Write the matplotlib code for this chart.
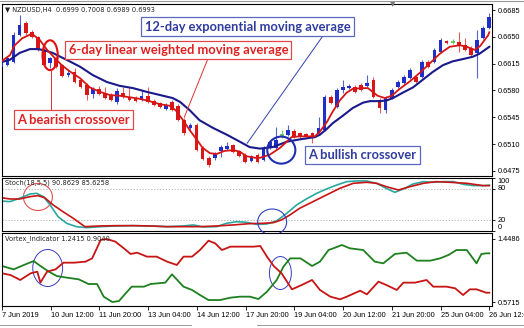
import numpy as np
import matplotlib.pyplot as plt
from matplotlib.patches import Ellipse

# NZDUSD H4 candles (bar index = position on the chart)
opens = [0.6611, 0.6613, 0.6617, 0.6652, 0.6668, 0.6656, 0.6650, 0.6633, 0.6616, 0.6622,
         0.6613, 0.6600, 0.6604, 0.6594, 0.6587, 0.6575, 0.6582, 0.6577, 0.6574, 0.6565,
         0.6577, 0.6571, 0.6570, 0.6567, 0.6573, 0.6566, 0.6564, 0.6556, 0.6565, 0.6560,
         0.6541, 0.6531, 0.6535, 0.6505, 0.6492, 0.6492, 0.6501, 0.6504, 0.6509, 0.6501,
         0.6496, 0.6488, 0.6496, 0.6489, 0.6505, 0.6505, 0.6522, 0.6522, 0.6527, 0.6524,
         0.6523, 0.6524, 0.6524, 0.6528, 0.6571, 0.6558, 0.6581, 0.6583, 0.6584, 0.6587,
         0.6586, 0.6594, 0.6567, 0.6554, 0.6570, 0.6584, 0.6590, 0.6596, 0.6598, 0.6598,
         0.6617, 0.6617, 0.6630, 0.6645, 0.6643, 0.6643, 0.6639, 0.6635, 0.6629, 0.6648, 0.6662]
highs = [0.6617, 0.6625, 0.6656, 0.6679, 0.6671, 0.6659, 0.6651, 0.6635, 0.6624, 0.6625,
         0.6615, 0.6607, 0.6609, 0.6596, 0.6590, 0.6584, 0.6586, 0.6584, 0.6577, 0.6583,
         0.6584, 0.6584, 0.6573, 0.6581, 0.6584, 0.6569, 0.6565, 0.6564, 0.6567, 0.6562,
         0.6544, 0.6537, 0.6537, 0.6507, 0.6494, 0.6500, 0.6509, 0.6513, 0.6510, 0.6502,
         0.6498, 0.6496, 0.6498, 0.6507, 0.6515, 0.6532, 0.6528, 0.6535, 0.6530, 0.6526,
         0.6524, 0.6526, 0.6545, 0.6574, 0.6574, 0.6583, 0.6594, 0.6588, 0.6587, 0.6590,
         0.6600, 0.6598, 0.6570, 0.6573, 0.6583, 0.6594, 0.6600, 0.6609, 0.6600, 0.6620,
         0.6620, 0.6635, 0.6648, 0.6646, 0.6647, 0.6656, 0.6648, 0.6638, 0.6659, 0.6664, 0.6681]
lows = [0.6609, 0.6612, 0.6616, 0.6651, 0.6652, 0.6648, 0.6631, 0.6612, 0.6609, 0.6609,
        0.6598, 0.6598, 0.6590, 0.6583, 0.6567, 0.6570, 0.6574, 0.6569, 0.6566, 0.6562,
        0.6570, 0.6566, 0.6565, 0.6566, 0.6564, 0.6560, 0.6557, 0.6554, 0.6553, 0.6540,
        0.6522, 0.6528, 0.6501, 0.6489, 0.6480, 0.6489, 0.6493, 0.6502, 0.6498, 0.6493,
        0.6485, 0.6487, 0.6485, 0.6488, 0.6504, 0.6504, 0.6518, 0.6520, 0.6518, 0.6518,
        0.6519, 0.6511, 0.6523, 0.6527, 0.6562, 0.6557, 0.6577, 0.6582, 0.6577, 0.6579,
        0.6584, 0.6570, 0.6551, 0.6551, 0.6569, 0.6583, 0.6588, 0.6595, 0.6590, 0.6596,
        0.6609, 0.6616, 0.6629, 0.6641, 0.6641, 0.6630, 0.6631, 0.6625, 0.6596, 0.6647, 0.6660]
closes = [0.6616, 0.6622, 0.6652, 0.6665, 0.6655, 0.6650, 0.6633, 0.6613, 0.6622, 0.6611,
          0.6599, 0.6603, 0.6591, 0.6584, 0.6574, 0.6582, 0.6575, 0.6570, 0.6567, 0.6579,
          0.6571, 0.6567, 0.6566, 0.6573, 0.6565, 0.6561, 0.6558, 0.6561, 0.6554, 0.6541,
          0.6524, 0.6535, 0.6502, 0.6490, 0.6483, 0.6497, 0.6506, 0.6507, 0.6500, 0.6494,
          0.6487, 0.6494, 0.6487, 0.6505, 0.6513, 0.6515, 0.6522, 0.6528, 0.6519, 0.6519,
          0.6520, 0.6518, 0.6531, 0.6571, 0.6564, 0.6581, 0.6584, 0.6586, 0.6578, 0.6581,
          0.6590, 0.6571, 0.6557, 0.6570, 0.6581, 0.6591, 0.6598, 0.6607, 0.6591, 0.6617,
          0.6611, 0.6633, 0.6646, 0.6642, 0.6643, 0.6639, 0.6633, 0.6626, 0.6646, 0.6662, 0.6676]

# 6-period LWMA (red) and 12-period EMA (navy)
wma_x = [0, 1.4, 2.2, 3.4, 5.0, 6.3, 7.5, 8.8, 9.9, 11.2, 12.9, 14.5, 16.2, 17.8, 19.4,
         21.1, 22.7, 24.3, 26.0, 27.6, 28.6, 29.8, 30.9, 32.1, 33.0, 34.2, 35.3, 36.6, 38.0,
         39.1, 40.2, 41.6, 42.4, 44.0, 45.7, 47.6, 48.9, 51.4, 52.2, 53.4, 54.3, 55.5, 56.6,
         57.6, 59.1, 60.1, 60.9, 61.7, 62.9, 64.0, 65.3, 67.0, 68.6, 70.2, 71.9, 73.5, 75.2,
         76.3, 77.6, 78.5, 79.8, 80]
wma_y = [0.6618, 0.6626, 0.6639, 0.6648, 0.6654, 0.6646, 0.6633, 0.6622, 0.6613, 0.6605,
         0.6596, 0.6584, 0.6578, 0.6574, 0.6573, 0.6571, 0.6569, 0.6566, 0.6562, 0.6560,
         0.6554, 0.6541, 0.6528, 0.6515, 0.6505, 0.6498, 0.6497, 0.6501, 0.6502, 0.6500,
         0.6494, 0.6492, 0.6492, 0.6496, 0.6505, 0.6519, 0.6520, 0.6520, 0.6526, 0.6539,
         0.6552, 0.6567, 0.6577, 0.6582, 0.6583, 0.6583, 0.6578, 0.6573, 0.6570, 0.6573,
         0.6582, 0.6592, 0.6603, 0.6615, 0.6628, 0.6637, 0.6639, 0.6637, 0.6633, 0.6638,
         0.6652, 0.6656]
ema_x = [0, 1.4, 3.0, 4.7, 5.8, 6.8, 8.4, 10.7, 12.9, 15.0, 17.3, 19.4, 21.6, 23.9, 26.0,
         28.1, 29.3, 30.9, 32.5, 34.7, 37.0, 39.1, 40.7, 42.4, 44.5, 46.8, 48.9, 51.4, 52.2,
         53.4, 54.3, 56.0, 57.6, 59.3, 60.4, 62.1, 63.2, 64.2, 65.8, 67.5, 69.1, 70.7, 72.4,
         74.0, 75.7, 77.3, 78.4, 80]
ema_y = [0.6617, 0.6620, 0.6629, 0.6634, 0.6634, 0.6633, 0.6629, 0.6620, 0.6611, 0.6600,
         0.6591, 0.6586, 0.6583, 0.6578, 0.6574, 0.6570, 0.6565, 0.6554, 0.6541, 0.6531,
         0.6522, 0.6513, 0.6506, 0.6504, 0.6506, 0.6513, 0.6516, 0.6519, 0.6522, 0.6530,
         0.6537, 0.6547, 0.6557, 0.6564, 0.6566, 0.6566, 0.6567, 0.6570, 0.6577, 0.6584,
         0.6594, 0.6604, 0.6613, 0.6618, 0.6621, 0.6624, 0.6628, 0.6637]

# Stochastic(18,5,5): %K (teal) and signal (red)
k_x = [0, 1.4, 3.0, 4.7, 5.8, 6.9, 8.0, 9.3, 10.7, 12.3, 14.0, 16.2, 18.9, 21.6, 24.4, 27.1,
       29.8, 31.5, 33.1, 35.3, 36.9, 38.6, 40.2, 41.8, 43.5, 45.1, 46.8, 48.4, 50.0, 51.7,
       53.3, 55.0, 56.6, 58.2, 59.9, 61.5, 63.1, 64.5, 65.9, 67.5, 69.2, 70.8, 72.4, 74.1,
       75.7, 77.4, 79.0, 80]
k_y = [56.6, 55.4, 61.7, 69.8, 71.1, 64.8, 49.1, 27.1, 14.5, 8.2, 6.3, 8.2, 9.5, 10.1, 9.5,
       8.2, 9.5, 11.4, 7.6, 8.2, 14.5, 17.6, 16.4, 12.6, 13.2, 18.9, 33.4, 49.1, 60.4, 71.1,
       79.3, 86.8, 93.1, 94.4, 94.4, 90.0, 80.5, 73.0, 79.3, 88.7, 93.1, 91.9, 93.1, 93.1,
       88.1, 85.6, 85.6, 86.5]
d_x = [0, 1.4, 3.0, 4.7, 6.0, 7.1, 8.5, 10.1, 11.8, 13.7, 16.2, 18.9, 21.6, 24.4, 27.1, 29.8,
       32.5, 35.3, 38.0, 40.7, 42.9, 44.6, 45.9, 47.3, 48.9, 51.1, 53.3, 55.5, 57.7, 59.9,
       61.5, 63.1, 65.1, 67.0, 69.2, 71.3, 73.5, 76.3, 79.0, 80]
d_y = [62.9, 60.4, 60.4, 64.8, 66.7, 62.9, 49.1, 36.5, 23.9, 8.2, 9.5, 10.1, 10.1, 9.5, 8.2,
       8.2, 8.2, 9.5, 11.4, 13.9, 14.5, 15.8, 20.8, 30.2, 42.8, 55.4, 68.0, 80.5, 90.0, 91.9,
       90.0, 83.7, 77.4, 83.7, 90.0, 93.1, 91.9, 90.0, 85.6, 85.6]

# Vortex indicator: VI+ (green) and VI- (red)
vp_x = [0, 1.9, 3.6, 5.2, 6.3, 7.7, 9.0, 10.7, 12.6, 14.2, 15.6, 16.7, 18.1, 19.2, 20.3, 21.3,
        23.3, 24.4, 26.8, 27.9, 29.8, 31.2, 32.5, 33.9, 35.8, 37.5, 39.1, 40.7, 42.1, 43.5,
        45.1, 46.2, 47.3, 49.0, 50.9, 52.2, 53.6, 54.4, 55.8, 57.1, 59.3, 61.2, 62.6, 64.5,
        66.4, 68.1, 70.3, 71.9, 73.3, 74.6, 76.3, 77.9, 78.7, 79.5, 80]
vp_y = [1.073, 1.026, 1.087, 1.142, 1.073, 0.994, 0.933, 0.910, 0.887, 0.822, 0.822, 0.646,
        0.5715, 0.585, 0.692, 0.785, 0.785, 0.822, 0.841, 0.957, 0.785, 0.739, 0.669, 0.599,
        0.599, 0.632, 0.646, 0.646, 0.613, 0.715, 0.878, 1.063, 1.179, 1.179, 1.073, 1.133,
        1.295, 1.319, 1.365, 1.319, 1.295, 1.133, 1.110, 1.240, 1.258, 1.147, 1.147, 1.179,
        1.226, 1.295, 1.295, 1.110, 1.240, 1.249, 1.249]
vm_x = [0, 1.4, 3.0, 4.7, 5.8, 6.3, 7.4, 8.8, 10.1, 11.8, 13.7, 14.8, 16.2, 17.2, 18.6, 20.0,
        21.1, 22.2, 23.8, 25.4, 27.1, 28.7, 29.8, 31.2, 32.5, 33.9, 35.0, 36.1, 37.5, 39.1,
        41.3, 42.4, 43.5, 44.6, 45.9, 47.6, 49.2, 50.9, 52.2, 53.9, 55.5, 56.6, 58.8, 59.9,
        61.8, 63.1, 64.8, 65.9, 67.8, 69.7, 70.8, 73.0, 74.4, 75.7, 76.8, 77.9, 79.5, 80]
vm_y = [0.971, 0.947, 0.878, 0.971, 0.994, 0.841, 0.994, 1.026, 1.119, 1.119, 1.133, 1.179,
        1.435, 1.4486, 1.412, 1.319, 1.240, 1.258, 1.203, 1.203, 1.133, 1.087, 1.203, 1.203,
        1.295, 1.425, 1.388, 1.295, 1.342, 1.342, 1.342, 1.351, 1.203, 1.073, 0.971, 0.748,
        0.808, 0.878, 0.739, 0.646, 0.609, 0.646, 0.729, 0.678, 0.855, 0.808, 0.739, 0.841,
        0.841, 0.878, 0.785, 0.785, 0.762, 0.669, 0.748, 0.748, 0.701, 0.701]

price_ticks = [0.6475, 0.6510, 0.6545, 0.6580, 0.6615, 0.6650, 0.6685]
date_labels = ['7 Jun 2019', '10 Jun 12:00', '11 Jun 20:00', '13 Jun 04:00', '14 Jun 12:00',
               '17 Jun 20:00', '19 Jun 04:00', '20 Jun 12:00', '21 Jun 20:00',
               '25 Jun 04:00', '26 Jun 12:00']
date_bars = [0, 8, 16, 24, 32, 40, 48, 56, 64, 72, 80]

BULL = '#1f2fc8'
BEAR = '#d81818'
TXT_BLUE = '#2f3c9e'
TXT_RED = '#e02020'
small = dict(family='Liberation Sans', fontsize=5.3)

fig = plt.figure(figsize=(5.24, 3.28), dpi=100)
W, H = 524.0, 328.0
ax1 = fig.add_axes([2 / W, 1 - 176 / H, 490 / W, 172 / H])
ax2 = fig.add_axes([2 / W, 1 - 231 / H, 490 / W, 53 / H])
ax3 = fig.add_axes([2 / W, 1 - 306 / H, 490 / W, 73 / H])

for ax in (ax1, ax2, ax3):
    ax.set_xlim(0.11, 80.44)
    for s in ax.spines.values():
        s.set_linewidth(0.8)
        s.set_color('black')
    ax.yaxis.tick_right()
    ax.tick_params(axis='y', direction='out', length=2.5, width=0.6, pad=1.5,
                   labelsize=5.3)
    for lab in ax.get_yticklabels():
        lab.set_family('Liberation Sans')

# ---- main price panel ----
o = np.array(opens); h = np.array(highs); l = np.array(lows); c = np.array(closes)
idx = np.arange(len(o))
up = c > o
dn = c < o
fl = c == o
ax1.vlines(idx[up], l[up], h[up], color='#5a64d0', lw=0.8, zorder=2)
ax1.vlines(idx[dn], l[dn], h[dn], color='#e06060', lw=0.8, zorder=2)
ax1.vlines(idx[fl], l[fl], h[fl], color='#70c870', lw=0.8, zorder=2)
ax1.bar(idx[up], c[up] - o[up], bottom=o[up], width=0.6, color=BULL, zorder=3)
ax1.bar(idx[dn], o[dn] - c[dn], bottom=c[dn], width=0.6, color=BEAR, zorder=3)
ax1.hlines(c[fl], idx[fl] - 0.3, idx[fl] + 0.3, color='#50c050', lw=1.2, zorder=3)

ax1.plot(ema_x, ema_y, color='#1a1a8c', lw=1.5, zorder=4)
ax1.plot(wma_x, wma_y, color='#d81515', lw=1.3, zorder=5)

ax1.set_ylim(0.64682, 0.66929)
ax1.set_yticks(price_ticks)
ax1.set_yticklabels(['%.4f' % p for p in price_ticks], **small)
ax1.set_xticks([])

ax1.text(0.006, 0.965, '\u25bc NZDUSD,H4  0.6999 0.7008 0.6989 0.6993',
         transform=ax1.transAxes, va='center', ha='left',
         family='DejaVu Sans', fontsize=4.8, color='#222222')
ax1.text(0.798, 1.0, '\u25bc', transform=ax1.transAxes, va='center', ha='center',
         fontsize=5, color='#777777', clip_on=False)

# crossover markers and callouts
ax1.add_patch(Ellipse((8.0, 0.6626), 2.5, 0.0039, fill=False, ec='#e01010', lw=1.5, zorder=6))
ax1.add_patch(Ellipse((45.9, 0.6502), 4.6, 0.00353, fill=False, ec='#2030b0', lw=1.5, zorder=6))
ax1.plot([8.15, 8.15], [0.6607, 0.6554], color='#e03030', lw=0.7, zorder=6)
ax1.plot([34.5, 30.0], [0.6634, 0.6545], color='#e03030', lw=0.7, zorder=6)
ax1.plot([52.7, 40.3], [0.6651, 0.6511], color='#3040b0', lw=0.7, zorder=6)

box = dict(boxstyle='square,pad=0.25', fc='white', lw=0.9)
anno = dict(transform=ax1.transAxes, ha='center', va='center', family='Lato',
            fontweight='bold', fontsize=9.3, zorder=7)
ax1.text(0.501, 0.869, '12-day exponential moving average', color=TXT_BLUE,
         bbox=dict(box, ec='#5a68c0'), **anno)
ax1.text(0.360, 0.733, '6-day linear weighted moving average', color=TXT_RED,
         bbox=dict(box, ec='#e04848'), **anno)
ax1.text(0.146, 0.328, 'A bearish crossover', color=TXT_RED,
         bbox=dict(box, ec='#e04848'), **anno)
ax1.text(0.736, 0.122, 'A bullish crossover', color=TXT_BLUE,
         bbox=dict(box, ec='#5a68c0'), **anno)

# ---- stochastic panel ----
ax2.axhline(80, color='#aaaaaa', lw=0.6, ls=(0, (1.5, 2)))
ax2.axhline(20, color='#aaaaaa', lw=0.6, ls=(0, (1.5, 2)))
ax2.plot(k_x, k_y, color='#2aa8a0', lw=1.2)
ax2.plot(d_x, d_y, color='#c81414', lw=1.2)
ax2.set_ylim(0, 100)
ax2.set_xticks([])
ax2.set_yticks([0, 20, 80, 100])
ax2.set_yticklabels(['0', '20', '80', '100'], **small)
for lab, va in zip(ax2.get_yticklabels(), ['bottom', 'center', 'center', 'top']):
    lab.set_va(va)
ax2.text(0.006, 0.906, 'Stoch(18,5,5) 90.8629 85.6258', transform=ax2.transAxes,
         va='center', ha='left', family='DejaVu Sans', fontsize=4.8, color='#222222')
ax2.add_patch(Ellipse((6.0, 64.2), 4.75, 51, fill=False, ec='#e05050', lw=0.8))
ax2.add_patch(Ellipse((44.4, 17.0), 4.75, 49, fill=False, ec='#3040c0', lw=0.8,
                      clip_on=False, zorder=8))

# ---- vortex panel ----
ax3.plot(vp_x, vp_y, color='#1e801e', lw=1.3)
ax3.plot(vm_x, vm_y, color='#c81414', lw=1.3)
ax3.set_ylim(0.516, 1.532)
ax3.set_yticks([0.5715, 1.4486])
ax3.set_yticklabels(['0.5715', '1.4486'], **small)
ax3.text(0.006, 0.918, 'Vortex_Indicator 1.2415 0.9040', transform=ax3.transAxes,
         va='center', ha='left', family='DejaVu Sans', fontsize=4.8, color='#222222')
ax3.add_patch(Ellipse((7.5, 1.045), 4.9, 0.515, fill=False, ec='#3a3ac0', lw=0.7))
ax3.add_patch(Ellipse((45.7, 0.975), 3.6, 0.459, fill=False, ec='#3a3ac0', lw=0.7))
ax3.set_xticks(date_bars)
ax3.set_xticklabels(date_labels, **small)
ax3.tick_params(axis='x', direction='out', length=3, width=0.6, pad=1.5)
for lab in ax3.get_xticklabels():
    lab.set_ha('left')

# terminal tab strip along the bottom
fig.add_artist(plt.Line2D([0, 191 / W], [3 / H, 3 / H], color='#888888', lw=0.6))
fig.add_artist(plt.Line2D([257 / W, 1], [3 / H, 3 / H], color='#888888', lw=0.6))
fig.add_artist(plt.Line2D([0, 1], [1 - 0.8 / H, 1 - 0.8 / H], color='#999999', lw=0.8))

fig.savefig('out.png', dpi=100)
